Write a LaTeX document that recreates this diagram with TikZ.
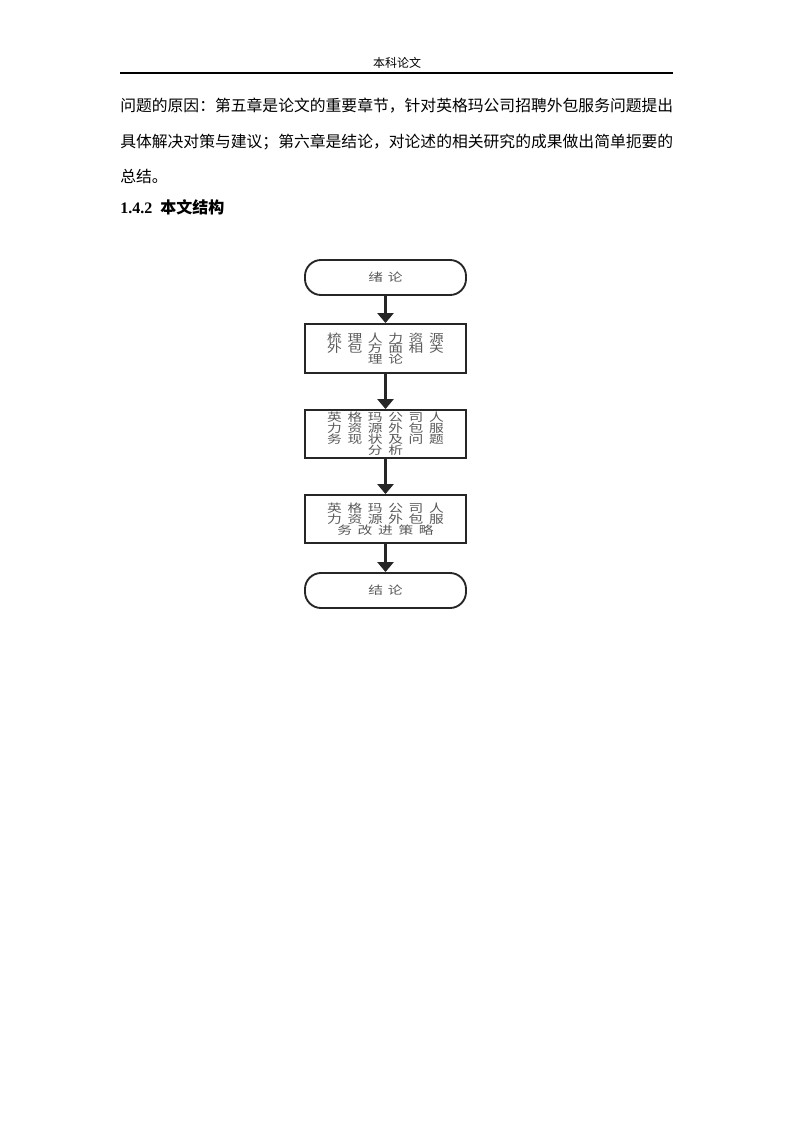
\documentclass[tikz,border=0pt]{standalone}
\usepackage{fontspec}
\setmainfont{Liberation Serif}
\newfontfamily\cjk{Noto Sans CJK SC}
\newfontfamily\flowfont[FakeStretch=1.3,LetterSpace=50]{Noto Sans CJK SC}
\usetikzlibrary{arrows.meta}
\tikzset{
  terminal/.style={draw=black!85, line width=1.4pt, rounded corners=12pt,
    minimum width=120.75pt, minimum height=26.25pt, inner sep=0pt,
    font=\flowfont\fontsize{8.5}{8.5}\selectfont, text=black!65},
  procbox/.style={draw=black!85, line width=1.4pt,
    minimum width=120.75pt, minimum height=36pt, inner sep=0pt, align=center,
    font=\flowfont\fontsize{8.5}{8.2}\selectfont, text=black!65},
  flowarrow/.style={draw=black!85, line width=2.2pt,
    -{Triangle[length=7.5pt,width=12pt]}},
  bodytext/.style={anchor=west, inner sep=0pt, font=\cjk\fontsize{11.85}{14}\selectfont},
}
\begin{document}
\begin{tikzpicture}[x=0.75pt,y=-0.75pt]
\useasboundingbox[fill=white] (0,0) rectangle (793,1122);
% header
\node[inner sep=0pt, font=\cjk\fontsize{9}{11}\selectfont] (hdr) at (397,63) {本科论文};
\coordinate (rl) at (120,73);
\coordinate (rr) at (673,73);
\draw[line width=0.8pt] (rl) -- (rr);
% body text
\node[bodytext] (l1) at (120,106) {问题的原因：第五章是论文的重要章节，针对英格玛公司招聘外包服务问题提出};
\node[bodytext] (l2) at (120,142) {具体解决对策与建议；第六章是结论，对论述的相关研究的成果做出简单扼要的};
\node[bodytext] (l3) at (120,176) {总结。};
\node[anchor=west, inner sep=0pt] (hd) at (120,207) {\fontsize{12}{14}\selectfont\bfseries 1.4.2\ \ {\cjk\bfseries 本文结构}};
% flowchart
\node[terminal] (t1) at (385.5,277.5) {绪\hspace{3.5pt}论};
\node[procbox, minimum height=36.75pt] (b1) at (385.5,348.5) {梳理人力资源\\外包方面相关\\理论};
\node[procbox] (b2) at (385.5,434) {英格玛公司人\\力资源外包服\\务现状及问题\\分析};
\node[procbox] (b3) at (385.5,519) {英格玛公司人\\力资源外包服\\务改进策略};
\node[terminal] (t2) at (385.5,590.5) {结\hspace{3.5pt}论};
\draw[flowarrow] (t1) -- (b1);
\draw[flowarrow] (b1) -- (b2);
\draw[flowarrow] (b2) -- (b3);
\draw[flowarrow] (b3) -- (t2);
\end{tikzpicture}
\end{document}
